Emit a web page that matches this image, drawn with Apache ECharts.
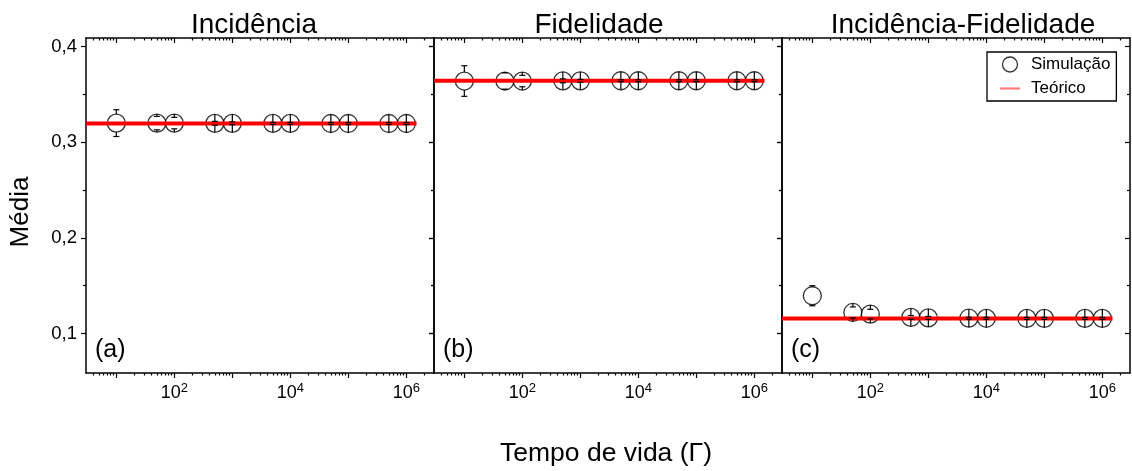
<!DOCTYPE html>
<html>
<head>
<meta charset="utf-8">
<script src="https://cdn.jsdelivr.net/npm/echarts@6/dist/echarts.min.js"></script>
<style>
  html, body { margin: 0; padding: 0; background: #fff; }
  #main { width: 1132px; height: 471px; }
</style>
</head>
<body>
<div id="main"></div>
<script>
// tempos de vida simulados (eixo x)
const lifetimes = [10, 50, 100, 500, 1000, 5000, 10000, 50000, 100000, 500000, 1000000];

const panelTitles = ["Incidência", "Fidelidade", "Incidência-Fidelidade"];
const panelTags = ["(a)", "(b)", "(c)"];

// médias simuladas e barras de erro, um par por painel
const meanA = [0.3200, 0.3200, 0.3200, 0.3198, 0.3198, 0.3197, 0.3197, 0.3196, 0.3196, 0.3196, 0.3196];
const errA  = [0.0140, 0.0070, 0.0060, 0.0020, 0.0015, 0.0010, 0.0010, 0.0010, 0.0010, 0.0010, 0.0010];
const meanB = [0.3640, 0.3640, 0.3640, 0.3642, 0.3642, 0.3643, 0.3643, 0.3643, 0.3643, 0.3643, 0.3643];
const errB  = [0.0160, 0.0085, 0.0060, 0.0020, 0.0015, 0.0010, 0.0010, 0.0010, 0.0010, 0.0010, 0.0010];
const meanC = [0.1395, 0.1220, 0.1203, 0.1168, 0.1163, 0.1160, 0.1159, 0.1158, 0.1158, 0.1158, 0.1158];
const errC  = [0.0105, 0.0058, 0.0050, 0.0020, 0.0015, 0.0010, 0.0010, 0.0010, 0.0010, 0.0010, 0.0010];

// valor teórico de cada painel
const theory = [0.3195, 0.3643, 0.1157];
const theoryRange = [3, 1500000];

// eixos
const xMin = 3, xMax = 3000000;
const yMin = 0.0587, yMax = 0.409;
const xMajor = [10, 100, 1000, 10000, 100000, 1000000];
const xLabeled = [100, 10000, 1000000];
const yMajor = [0.1, 0.2, 0.3, 0.4];
const yMinor = [0.15, 0.25, 0.35];

const xMinor = [];
for (let d = 1; d <= 1000000; d *= 10) {
  for (let k = 2; k <= 9; k++) {
    const v = d * k;
    if (v > xMin && v < xMax) xMinor.push(v);
  }
}

const means = [meanA, meanB, meanC];
const errs = [errA, errB, errC];

const FONT = "Liberation Sans, Arial, sans-serif";
const MARK = 18;
const gridLeft = 86, gridW = 348, gridTop = 38, gridH = 335;

var chartDom = document.getElementById("main");
var myChart = echarts.init(chartDom);

const grids = [], xAxes = [], yAxes = [], series = [], graphics = [], titles = [];

function xAx(i, pos, ticks, len, inside, line, labels) {
  return {
    type: "log", logBase: 10, gridIndex: i, position: pos, min: xMin, max: xMax,
    axisLine: { show: line, onZero: false, lineStyle: { color: "#000", width: 1.5 } },
    axisTick: { show: true, inside: inside, length: len, customValues: ticks, lineStyle: { color: "#000", width: 1.2 } },
    axisLabel: labels ? {
      show: true, customValues: labels, margin: 9, color: "#000", fontFamily: FONT,
      formatter: (v) => "{b|10}{s|" + Math.round(Math.log10(v)) + "}",
      rich: {
        b: { fontSize: 18, fontFamily: FONT, color: "#000", lineHeight: 22 },
        s: { fontSize: 13, fontFamily: FONT, color: "#000", verticalAlign: "top", lineHeight: 13 }
      }
    } : { show: false },
    splitLine: { show: false }
  };
}

function yAx(i, pos, ticks, len, inside, line, labels) {
  return {
    type: "value", gridIndex: i, position: pos, min: yMin, max: yMax,
    axisLine: { show: line, onZero: false, lineStyle: { color: "#000", width: 1.5 } },
    axisTick: { show: true, inside: inside, length: len, customValues: ticks, lineStyle: { color: "#000", width: 1.2 } },
    axisLabel: labels ? {
      show: true, customValues: labels, margin: 9, color: "#000", fontSize: 18.5, fontFamily: FONT,
      formatter: (v) => v.toFixed(1).replace(".", ",")
    } : { show: false },
    splitLine: { show: false }
  };
}

for (let i = 0; i < 3; i++) {
  grids.push({ left: gridLeft + gridW * i, top: gridTop, width: gridW, height: gridH });

  xAxes.push(xAx(i, "bottom", xMajor, 5, false, true, xLabeled));
  xAxes.push(xAx(i, "bottom", xMinor, 2.5, false, false, null));
  xAxes.push(xAx(i, "top", xMajor, 5, true, true, null));
  xAxes.push(xAx(i, "top", xMinor, 2.5, true, false, null));

  yAxes.push(yAx(i, "left", yMajor, 5, false, true, i === 0 ? yMajor : null));
  yAxes.push(yAx(i, "left", yMinor, 3, false, false, null));
  yAxes.push(yAx(i, "right", yMajor, 5, true, true, null));
  yAxes.push(yAx(i, "right", yMinor, 3, true, false, null));

  const pts = lifetimes.map((x, j) => [x, means[i][j]]);
  const bars = lifetimes.map((x, j) => [x, means[i][j], means[i][j] - errs[i][j], means[i][j] + errs[i][j]]);

  series.push({
    name: "Simulação", type: "scatter", xAxisIndex: 4 * i, yAxisIndex: 4 * i,
    symbol: "circle", symbolSize: MARK, z: 2,
    itemStyle: { color: "rgba(0,0,0,0)", borderColor: "#000", borderWidth: 1.3 },
    emphasis: { disabled: true },
    data: pts
  });
  series.push({
    name: "Teórico", type: "line", xAxisIndex: 4 * i, yAxisIndex: 4 * i,
    symbol: "none", z: 3,
    lineStyle: { color: "#ff0000", width: 4 },
    itemStyle: { color: "#ff0000" },
    data: theoryRange.map((x) => [x, theory[i]])
  });
  series.push({
    type: "custom", xAxisIndex: 4 * i, yAxisIndex: 4 * i, z: 4,
    renderItem: function (params, api) {
      const x = api.value(0);
      const c = api.coord([x, api.value(1)]);
      const lo = api.coord([x, api.value(2)]);
      const hi = api.coord([x, api.value(3)]);
      const r = MARK / 2, cap = 3;
      const st = { stroke: "#000", lineWidth: 1.2 };
      return {
        type: "group",
        children: [
          { type: "line", shape: { x1: c[0], y1: c[1] - r, x2: c[0], y2: hi[1] }, style: st },
          { type: "line", shape: { x1: c[0] - cap, y1: hi[1], x2: c[0] + cap, y2: hi[1] }, style: st },
          { type: "line", shape: { x1: c[0], y1: c[1] + r, x2: c[0], y2: lo[1] }, style: st },
          { type: "line", shape: { x1: c[0] - cap, y1: lo[1], x2: c[0] + cap, y2: lo[1] }, style: st }
        ]
      };
    },
    data: bars
  });

  graphics.push({
    type: "text", left: 95 + gridW * i, top: 338,
    style: { text: panelTags[i], font: "25px " + FONT, fill: "#000" }
  });
}

const titleX = [249, 594, 958];
titles.push(...panelTitles.map((t, i) => ({
  text: t, left: titleX[i], top: 6, textAlign: "center",
  textStyle: { fontSize: 28, fontWeight: "normal", fontFamily: FONT, color: "#000" }
})));

graphics.push({
  type: "text", left: 500, top: 440,
  style: { text: "Tempo de vida (Γ)", font: "26.5px " + FONT, fill: "#000" }
});
graphics.push({
  type: "text", x: 8, y: 212, rotation: Math.PI / 2,
  style: { text: "Média", font: "26px " + FONT, fill: "#000", align: "center", verticalAlign: "top" }
});

option = {
  animation: false,
  backgroundColor: "#fff",
  title: titles,
  grid: grids,
  xAxis: xAxes,
  yAxis: yAxes,
  legend: {
    orient: "vertical", left: 987, top: 52,
    padding: [4, 6, 4, 13], itemGap: 7, itemWidth: 20, itemHeight: 15,
    borderColor: "#000", borderWidth: 1.3,
    textStyle: { fontSize: 17, fontFamily: FONT, color: "#000", padding: [0, 0, 0, 6] },
    data: [
      { name: "Simulação", icon: "circle", itemStyle: { color: "rgba(0,0,0,0)", borderColor: "#000", borderWidth: 1.3 } },
      { name: "Teórico", icon: "path://M0,0L18,0L18,2L0,2Z", itemStyle: { color: "#ff7f7f", borderWidth: 0 } }
    ]
  },
  graphic: graphics,
  series: series
};

option && myChart.setOption(option);
</script>
</body>
</html>
